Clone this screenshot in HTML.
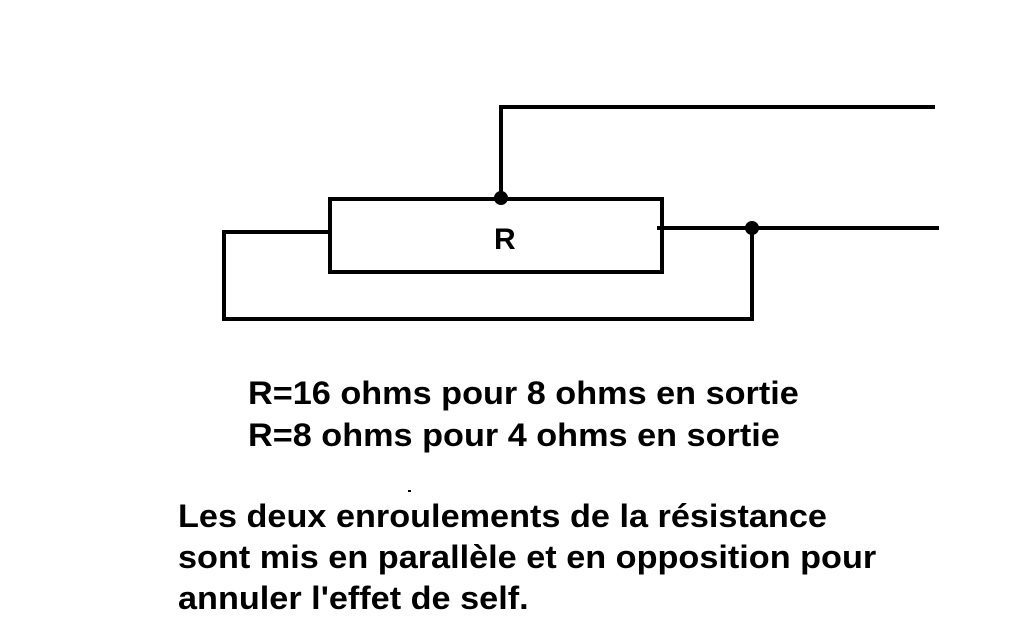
<!DOCTYPE html>
<html><head><style>
body{margin:0;background:#fff;width:1033px;height:631px;overflow:hidden;position:relative;font-family:"Liberation Sans",sans-serif;font-weight:bold;}
.t{position:absolute;font-size:32px;color:#000;white-space:nowrap;line-height:1;transform:scaleX(1.07);transform-origin:0 0}
</style></head><body>
<svg width="1033" height="631" style="position:absolute;left:0;top:0">
<g stroke="#000" stroke-width="4" fill="none" stroke-linecap="square">
<polyline points="501,198 501,107 933,107"/>
<rect x="330" y="199" width="332" height="73"/>
<polyline points="330,232 224,232 224,319 752,319 752,228"/>
<line x1="659" y1="228" x2="937" y2="228"/>
</g>
<circle cx="501" cy="198" r="7" fill="#000"/>
<circle cx="752" cy="228" r="7" fill="#000"/>
<rect x="408" y="490" width="3" height="2" fill="#000"/>
</svg>
<div class="t" style="left:494px;top:225px;font-size:30px;transform:none">R</div>
<div class="t" style="left:248px;top:377px">R=16 ohms pour 8 ohms en sortie</div>
<div class="t" style="left:248px;top:419px">R=8 ohms pour 4 ohms en sortie</div>
<div class="t" style="left:178px;top:500px">Les deux enroulements de la résistance</div>
<div class="t" style="left:178px;top:541px">sont mis en parallèle et en opposition pour</div>
<div class="t" style="left:178px;top:582px">annuler l'effet de self.</div>
</body></html>
